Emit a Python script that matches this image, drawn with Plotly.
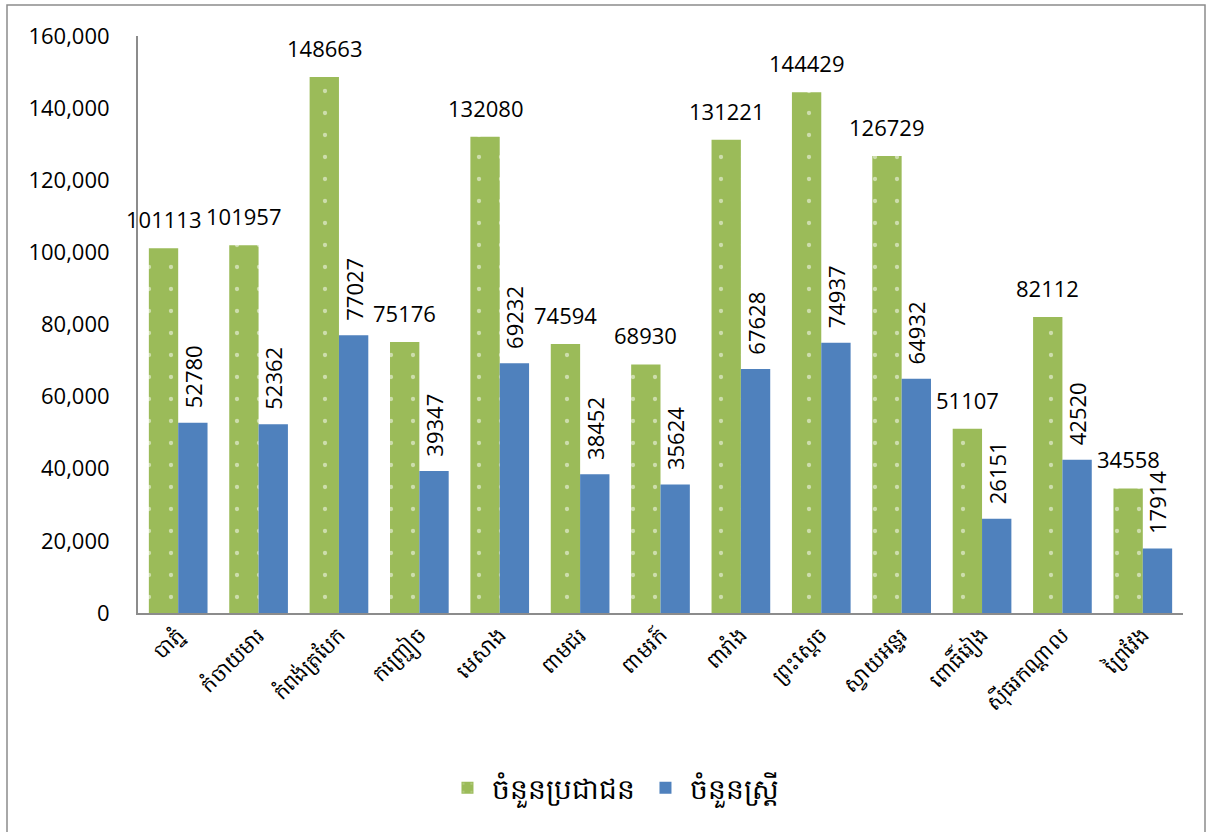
import plotly.graph_objects as go

districts = ["បាភ្នំ", "កំចាយមារ", "កំពង់ត្របែក", "កញ្ជ្រៀច", "មេសាង", "ពាមជរ", "ពាមរក៍",
             "ពារាំង", "ព្រះស្ដេច", "ស្វាយអន្ទរ", "ពោធិ៍រៀង", "ស៊ីធរកណ្ដាល", "ព្រៃវែង"]
population = [101113, 101957, 148663, 75176, 132080, 74594, 68930,
              131221, 144429, 126729, 51107, 82112, 34558]
women = [52780, 52362, 77027, 39347, 69232, 38452, 35624,
         67628, 74937, 64932, 26151, 42520, 17914]
series_names = ["ចំនួនប្រជាជន", "ចំនួនស្ត្រី"]
y_ticks = [0, 20000, 40000, 60000, 80000, 100000, 120000, 140000, 160000]

GREEN = "#9BBB59"
BLUE = "#4F81BD"
FONT = "Open Sans, Noto Sans, DejaVu Sans, sans-serif"

PLOT_W = 1045
BARGAP = 0.27
half_bar_px = PLOT_W / len(districts) * (1 - BARGAP) / 4

fig = go.Figure()
fig.add_trace(go.Bar(
    x=districts, y=population, name=series_names[0],
    marker=dict(color=GREEN, line=dict(width=0),
                pattern=dict(shape=".", fgcolor="white", bgcolor=GREEN, size=22, solidity=0.03)),
))
fig.add_trace(go.Bar(
    x=districts, y=women, name=series_names[1],
    marker=dict(color=BLUE, line=dict(width=0)),
    text=["\u00a0\u00a0" + str(v) for v in women], textposition="outside", textangle=-90,
    constraintext="none",
    textfont=dict(size=22, color="black", family=FONT), cliponaxis=False,
))

for d, v in zip(districts, population):
    fig.add_annotation(x=d, y=v, text=str(v), showarrow=False, xref="x", yref="y",
                       xanchor="center", yanchor="bottom", xshift=-half_bar_px, yshift=12,
                       font=dict(size=22, color="black", family=FONT))

fig.update_layout(
    width=1211, height=832,
    margin=dict(l=138, r=28, t=36, b=219),
    paper_bgcolor="white", plot_bgcolor="white",
    barmode="group", bargap=BARGAP, bargroupgap=0,
    font=dict(family=FONT, size=20, color="black"),
    legend=dict(orientation="h", x=0.455, xanchor="center", y=-0.26, yanchor="top",
                font=dict(size=28, family=FONT), itemwidth=40, traceorder="normal"),
    showlegend=True,
)
fig.update_xaxes(range=[-0.5, len(districts) - 0.5], showline=True, linecolor="#8c8c8c",
                 linewidth=2, showgrid=False, tickangle=-45,
                 tickfont=dict(size=21, family=FONT), ticks="")
fig.update_yaxes(range=[0, 160000], tickvals=y_ticks, tickformat=",", showline=True,
                 linecolor="#8c8c8c", linewidth=2, showgrid=False, zeroline=False,
                 tickfont=dict(size=22, family=FONT), ticks="", ticklabelstandoff=22)

fig.add_shape(type="rect", xref="paper", yref="paper",
              x0=(7 - 138) / 1045, x1=(1205 - 138) / 1045,
              y0=(613 - 840) / 577, y1=(613 - 5) / 577,
              line=dict(color="#8c8c8c", width=1.5), fillcolor="rgba(0,0,0,0)", layer="below")

fig.write_html("out.html", config={"displayModeBar": False},
               post_script="document.body.style.margin='0';document.body.style.overflow='hidden';")
